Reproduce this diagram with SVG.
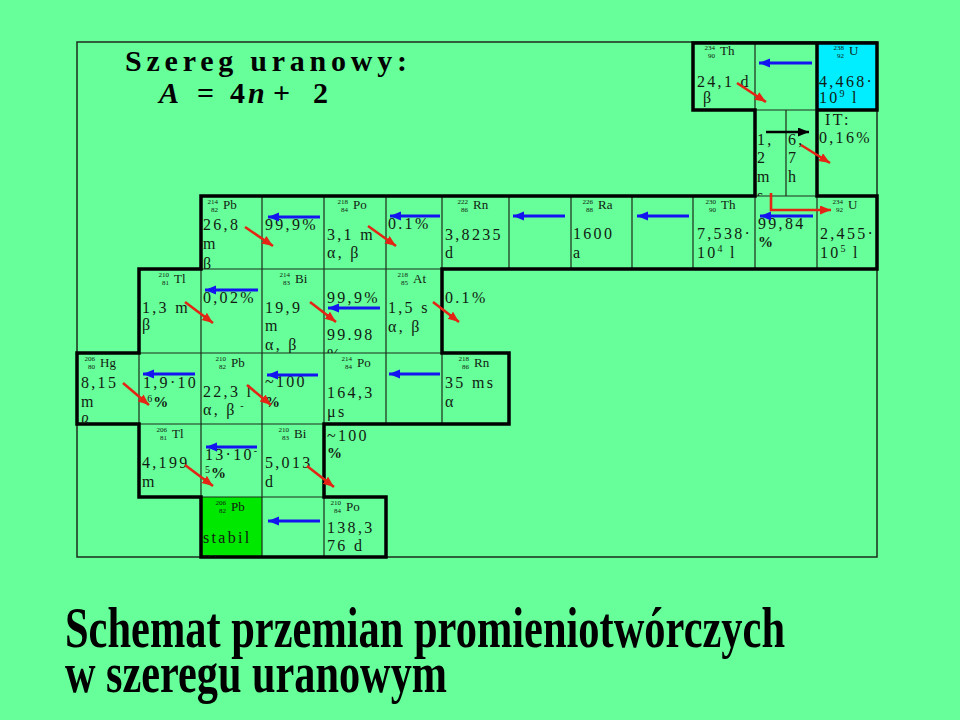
<svg xmlns="http://www.w3.org/2000/svg" width="960" height="720" viewBox="0 0 960 720">
<style>
.t{font-family:"Liberation Serif","Times New Roman",serif;font-size:16px;letter-spacing:2.3px;fill:#111a11}
.s{font-family:"Liberation Serif","Times New Roman",serif;font-size:13px;fill:#111a11}
.n{font-family:"Liberation Serif","Times New Roman",serif;font-size:7px;text-anchor:end;fill:#111a11}
.p{font-weight:bold;font-size:15px}
.sup{font-size:10px;letter-spacing:1px}
.thin{stroke:#1c2c1c;stroke-width:1.2;fill:none}
.thick{stroke:#000;stroke-width:3.5;fill:none;stroke-linejoin:miter}
.ab{stroke:#1414f0;stroke-width:3;fill:none;marker-end:url(#hb)}
.ar{stroke:#e42414;stroke-width:2.6;fill:none;marker-end:url(#hr)}
.ak{stroke:#000;stroke-width:2.4;fill:none;marker-end:url(#hk)}
.title{font-family:"Liberation Serif","Times New Roman",serif;font-weight:bold;font-size:30px;fill:#000}
.big{font-family:"Liberation Serif","Times New Roman",serif;font-weight:bold;font-size:56px;fill:#000}
</style>
<defs>
<marker id="hb" markerUnits="userSpaceOnUse" markerWidth="12" markerHeight="10" refX="11" refY="4.5" orient="auto"><path d="M0,0 L11,4.5 L0,9 z" fill="#1414f0"/></marker>
<marker id="hr" markerUnits="userSpaceOnUse" markerWidth="12" markerHeight="10" refX="11" refY="4.5" orient="auto"><path d="M0,0 L11,4.5 L0,9 z" fill="#e42414"/></marker>
<marker id="hk" markerUnits="userSpaceOnUse" markerWidth="12" markerHeight="10" refX="11" refY="4.5" orient="auto"><path d="M0,0 L11,4.5 L0,9 z" fill="#000"/></marker>
<clipPath id="cPb214"><rect x="201" y="196" width="61" height="73"/></clipPath>
<clipPath id="cBi214"><rect x="262" y="269" width="62" height="84"/></clipPath>
<clipPath id="cHg206"><rect x="77" y="353" width="62" height="71"/></clipPath>
<clipPath id="cPb206"><rect x="201" y="497" width="61" height="60"/></clipPath>
<clipPath id="cBr2"><rect x="324" y="269" width="62" height="84"/></clipPath>
<clipPath id="cPa"><rect x="755" y="110" width="31" height="86"/></clipPath>
</defs>

<rect width="960" height="720" fill="#66ff99"/>
<rect x="77" y="42" width="800" height="515" fill="none" stroke="#1c2c1c" stroke-width="1.5"/>

<!-- fills -->
<rect x="817" y="43" width="60" height="67" fill="#00eeff"/>
<rect x="201" y="497" width="61" height="60" fill="#00e800"/>

<!-- thin grid -->
<path class="thin" d="M755,43V110 M786,110V196 M755,110H817 M755,196H817
M262,196V269 M324,196V269 M386,196V269 M442,196V269 M509,196V269 M571,196V269 M632,196V269 M693,196V269 M755,196V269 M817,196V269
M201,269V353 M262,269V353 M324,269V353 M386,269V353
M139,353V424 M201,353V424 M262,353V424 M324,353V424 M386,353V424 M442,353V424
M201,424V497 M262,424V497
M262,497V557 M324,497V557
M201,269H442 M139,353H442 M139,424H324 M201,497H324"/>

<!-- thick outline -->
<path class="thick" d="M201,196 H755 V110 H693 V43 H877 V110 H817 V196 H877 V269 H442 V353 H509 V424 H324 V497 H386 V557 H201 V497 H139 V424 H77 V353 H139 V269 H201 Z M817,43 V110"/>

<!-- title -->
<g id="title">
<text class="title" x="125" y="71" textLength="282" lengthAdjust="spacing">Szereg uranowy:</text>
<text class="title" y="103"><tspan x="159" font-style="italic">A</tspan><tspan x="197">=</tspan><tspan x="230">4</tspan><tspan x="248" font-style="italic">n</tspan><tspan x="273">+</tspan><tspan x="313">2</tspan></text>
</g>

<!-- nuclides -->
<g id="th234">
<text class="n" x="715" y="50">234</text><text class="n" x="715" y="58">90</text><text class="s" x="720" y="55">Th</text>
<text class="t" x="697" y="87">24,1 d</text><text class="t" x="703" y="103">β</text>
</g>
<g id="u238">
<text class="n" x="844" y="50">238</text><text class="n" x="844" y="58">92</text><text class="s" x="849" y="55">U</text>
<text class="t" x="819" y="87">4,468·</text>
<text class="t" x="819" y="103">10<tspan class="sup" dy="-6">9</tspan><tspan dy="6"> l</tspan></text>
</g>
<g id="pa234" clip-path="url(#cPa)">
<text class="t" x="757" y="145">1,</text><text class="t" x="757" y="163">2</text><text class="t" x="757" y="182">m</text><text class="t" x="757" y="201">s</text>
</g>
<g id="pa234b">
<text class="t" x="788" y="145">6,</text><text class="t" x="788" y="163">7</text><text class="t" x="788" y="182">h</text>
</g>
<g id="it">
<text class="t" x="825" y="125">IT:</text><text class="t" x="819" y="143">0,16%</text>
</g>
<g id="u234">
<text class="n" x="843" y="204">234</text><text class="n" x="843" y="212">92</text><text class="s" x="848" y="209">U</text>
<text class="t" x="820" y="239">2,455·</text>
<text class="t" x="820" y="258">10<tspan class="sup" dy="-6">5</tspan><tspan dy="6"> l</tspan></text>
</g>
<g id="br-u234">
<text class="t" x="758" y="229">99,84</text><text class="t p" x="758" y="247">%</text>
</g>
<g id="th230">
<text class="n" x="716" y="204">230</text><text class="n" x="716" y="212">90</text><text class="s" x="721" y="209">Th</text>
<text class="t" x="697" y="239">7,538·</text>
<text class="t" x="697" y="258">10<tspan class="sup" dy="-6">4</tspan><tspan dy="6"> l</tspan></text>
</g>
<g id="ra226">
<text class="n" x="593" y="204">226</text><text class="n" x="593" y="212">88</text><text class="s" x="598" y="209">Ra</text>
<text class="t" x="573" y="239">1600</text><text class="t" x="573" y="258">a</text>
</g>
<g id="rn222">
<text class="n" x="468" y="204">222</text><text class="n" x="468" y="212">86</text><text class="s" x="473" y="209">Rn</text>
<text class="t" x="445" y="240">3,8235</text><text class="t" x="445" y="258">d</text>
</g>
<g id="br-rn222">
<text class="t" x="388" y="229">0.1%</text>
</g>
<g id="po218">
<text class="n" x="348" y="204">218</text><text class="n" x="348" y="212">84</text><text class="s" x="353" y="209">Po</text>
<text class="t" x="327" y="240">3,1 m</text><text class="t" x="327" y="258">α, β</text>
</g>
<g id="br-po218">
<text class="t" x="265" y="230">99,9%</text>
</g>
<g id="pb214" clip-path="url(#cPb214)">
<text class="n" x="218" y="204">214</text><text class="n" x="218" y="212">82</text><text class="s" x="223" y="209">Pb</text>
<text class="t" x="203" y="230">26,8</text><text class="t" x="203" y="249">m</text><text class="t" x="203" y="269">β</text>
</g>
<g id="at218">
<text class="n" x="408" y="277">218</text><text class="n" x="408" y="285">85</text><text class="s" x="413" y="283">At</text>
<text class="t" x="388" y="313">1,5 s</text><text class="t" x="388" y="332">α, β</text>
</g>
<g id="br-at218">
<text class="t" x="445" y="303">0.1%</text>
</g>
<g id="br-bi214" clip-path="url(#cBr2)">
<text class="t" x="327" y="303">99,9%</text><text class="t" x="327" y="340">99.98</text><text class="t" x="327" y="360">%</text>
</g>
<g id="bi214" clip-path="url(#cBi214)">
<text class="n" x="290" y="277">214</text><text class="n" x="290" y="285">83</text><text class="s" x="295" y="283">Bi</text>
<text class="t" x="265" y="313">19,9</text><text class="t" x="265" y="331">m</text><text class="t" x="265" y="350">α, β</text>
</g>
<g id="br-tl210">
<text class="t" x="203" y="303">0,02%</text>
</g>
<g id="tl210">
<text class="n" x="169" y="277">210</text><text class="n" x="169" y="285">81</text><text class="s" x="174" y="283">Tl</text>
<text class="t" x="142" y="313">1,3 m</text><text class="t" x="142" y="330">β</text>
</g>
<g id="hg206" clip-path="url(#cHg206)">
<text class="n" x="95" y="361">206</text><text class="n" x="95" y="369">80</text><text class="s" x="100" y="367">Hg</text>
<text class="t" x="81" y="388">8,15</text><text class="t" x="81" y="407">m</text><text class="t" x="81" y="427">β</text>
</g>
<g id="br-hg206">
<text class="t" x="143" y="388">1,9·10</text>
<text class="t" x="143" y="407"><tspan class="sup" dy="-5">-6</tspan><tspan class="p" dy="5">%</tspan></text>
</g>
<g id="pb210">
<text class="n" x="226" y="361">210</text><text class="n" x="226" y="369">82</text><text class="s" x="231" y="367">Pb</text>
<text class="t" x="203" y="397">22,3 l</text>
<text class="t" x="203" y="415">α, β<tspan class="sup" dy="-6"> -</tspan></text>
</g>
<g id="br-pb210">
<text class="t" x="265" y="387">~100</text><text class="t p" x="265" y="407">%</text>
</g>
<g id="po214">
<text class="n" x="352" y="361">214</text><text class="n" x="352" y="369">84</text><text class="s" x="357" y="367">Po</text>
<text class="t" x="327" y="398">164,3</text><text class="t" x="327" y="417">μs</text>
</g>
<g id="rn218">
<text class="n" x="469" y="361">218</text><text class="n" x="469" y="369">86</text><text class="s" x="474" y="367">Rn</text>
<text class="t" x="445" y="388">35 ms</text><text class="t" x="445" y="407">α</text>
</g>
<g id="tl206">
<text class="n" x="167" y="432">206</text><text class="n" x="167" y="440">81</text><text class="s" x="172" y="438">Tl</text>
<text class="t" x="142" y="468">4,199</text><text class="t" x="142" y="487">m</text>
</g>
<g id="br-tl206">
<text class="t" x="205" y="460">13·10<tspan class="sup" dy="-6">-</tspan></text>
<text class="t" x="205" y="478"><tspan class="sup" dy="-5">5</tspan><tspan class="p" dy="5">%</tspan></text>
</g>
<g id="bi210">
<text class="n" x="289" y="432">210</text><text class="n" x="289" y="440">83</text><text class="s" x="294" y="438">Bi</text>
<text class="t" x="265" y="468">5,013</text><text class="t" x="265" y="487">d</text>
</g>
<g id="br-bi210">
<text class="t" x="327" y="441">~100</text><text class="t p" x="327" y="458">%</text>
</g>
<g id="pb206" clip-path="url(#cPb206)">
<text class="n" x="226" y="505">206</text><text class="n" x="226" y="513">82</text><text class="s" x="231" y="511">Pb</text>
<text class="t" x="203" y="543">stabil</text><text class="t" x="203" y="563">ny</text>
</g>
<g id="po210">
<text class="n" x="341" y="505">210</text><text class="n" x="341" y="513">84</text><text class="s" x="346" y="511">Po</text>
<text class="t" x="327" y="533">138,3</text><text class="t" x="327" y="551">76 d</text>
</g>

<!-- connectors -->
<g id="connectors">
<line class="ab" x1="812" y1="63" x2="759" y2="63"/>
<line class="ab" x1="320" y1="217" x2="268" y2="217"/>
<line class="ab" x1="440" y1="216" x2="390" y2="216"/>
<line class="ab" x1="565" y1="216" x2="513" y2="216"/>
<line class="ab" x1="689" y1="216" x2="637" y2="216"/>
<line class="ab" x1="813" y1="216" x2="760" y2="216"/>
<line class="ab" x1="258" y1="290" x2="205" y2="290"/>
<line class="ab" x1="380" y1="308" x2="328" y2="308"/>
<line class="ab" x1="195" y1="374" x2="143" y2="374"/>
<line class="ab" x1="318" y1="375" x2="267" y2="375"/>
<line class="ab" x1="440" y1="374" x2="389" y2="374"/>
<line class="ab" x1="257" y1="447" x2="206" y2="447"/>
<line class="ab" x1="320" y1="521" x2="268" y2="521"/>
<line class="ar" x1="737" y1="83" x2="766" y2="102"/>
<line class="ar" x1="801" y1="145" x2="830" y2="163"/>
<polyline class="ar" points="771,193 771,210 831,210"/>
<line class="ar" x1="245" y1="227" x2="273" y2="246"/>
<line class="ar" x1="368" y1="226" x2="396" y2="246"/>
<line class="ar" x1="185" y1="302" x2="213" y2="323"/>
<line class="ar" x1="310" y1="302" x2="336" y2="322"/>
<line class="ar" x1="433" y1="302" x2="459" y2="322"/>
<line class="ar" x1="123" y1="383" x2="149" y2="405"/>
<line class="ar" x1="247" y1="385" x2="271" y2="405"/>
<line class="ar" x1="185" y1="465" x2="213" y2="486"/>
<line class="ar" x1="307" y1="466" x2="334" y2="487"/>
<line class="ak" x1="766" y1="132" x2="809" y2="132"/>
</g>

<g id="caption">
<text class="big" x="65" y="647" textLength="720" lengthAdjust="spacingAndGlyphs">Schemat przemian promieniotwórczych</text>
<text class="big" x="65" y="692" textLength="382" lengthAdjust="spacingAndGlyphs">w szeregu uranowym</text>
</g>
</svg>
